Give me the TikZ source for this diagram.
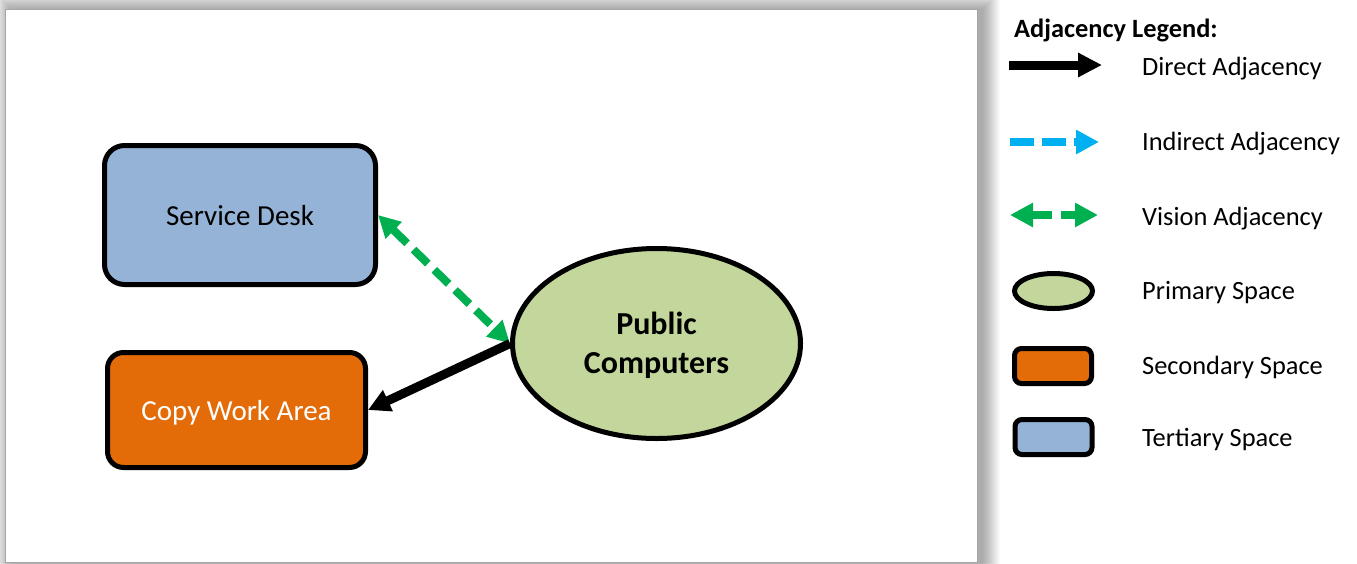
\documentclass[tikz,border=0pt]{standalone}
\usepackage{fontspec}
\setmainfont{Carlito}
\usetikzlibrary{arrows.meta,shapes.geometric}

\definecolor{tertfill}{RGB}{149,179,215}
\definecolor{secfill}{RGB}{227,108,9}
\definecolor{primfill}{RGB}{195,214,155}
\definecolor{visgreen}{RGB}{0,176,80}
\definecolor{indblue}{RGB}{0,176,240}

\tikzset{
  nodefont/.style={font=\fontsize{29}{35}\selectfont, text height=20pt, text depth=0pt},
  legfont/.style={font=\fontsize{26.4}{32}\selectfont},
  tertiary/.style={draw=black, line width=5pt, fill=tertfill, rounded corners=20pt, inner sep=0pt},
  secondary/.style={draw=black, line width=5pt, fill=secfill, rounded corners=16pt, inner sep=0pt},
  primary/.style={draw=black, line width=5pt, fill=primfill, ellipse, inner sep=0pt},
  legtert/.style={tertiary, rounded corners=7pt, minimum width=77pt, minimum height=35pt},
  legsec/.style={secondary, rounded corners=7pt, minimum width=77pt, minimum height=35pt},
  legprim/.style={primary, minimum width=78pt, minimum height=35pt},
  directarrow/.style={draw=black, line width=9pt, -{Triangle[length=22pt,width=22pt]}},
  visionarrow/.style={draw=visgreen, line width=8pt, dash pattern=on 20pt off 9pt,
    {Triangle[length=22pt,width=22pt]}-{Triangle[length=22pt,width=22pt]}},
  legdirect/.style={draw=black, line width=9pt, -{Triangle[length=24pt,width=23pt]}},
  legindirect/.style={draw=indblue, line width=8pt, dash pattern=on 24pt off 8pt,
    -{Triangle[length=23pt,width=23pt]}},
  legvision/.style={draw=visgreen, line width=8pt, dash pattern=on 20pt off 9pt,
    {Triangle[length=23pt,width=23pt]}-{Triangle[length=23pt,width=23pt]}},
  legtext/.style={legfont, anchor=base west, inner sep=0pt},
}

\begin{document}
\begin{tikzpicture}[x=1pt, y=-1pt]
\useasboundingbox (0,0) rectangle (1357,563);
\fill[white] (0,0) rectangle (1357,563);

% soft drop shadow behind the drawing area
\foreach \r in {0,...,17}
  \fill[black, opacity=0.018] (11-\r, 9-\r) rectangle (983+\r, 580+\r);
% drawing area
\filldraw[fill=white, draw=black!35, line width=0.8pt] (5,9) rectangle (977,562);

% spaces
\node[tertiary, nodefont, minimum width=271pt, minimum height=139pt] (sd) at (240,215) {Service Desk};
\node[secondary, nodefont, text=white, minimum width=258pt, minimum height=115pt] (cwa) at (236.5,410) {Copy Work Area};
\node[primary, minimum width=288pt, minimum height=190pt, align=center,
      text height=59pt, text depth=0pt,
      font=\fontsize{32}{39}\selectfont\bfseries] (pc) at (656.5,343.5) {Public\\Computers};

% adjacencies
\draw[visionarrow] (sd.east) -- (pc.west);
\draw[directarrow] (pc.west) -- (cwa.east);

% legend
\node[legtext, font=\fontsize{26.4}{32}\selectfont\bfseries] (legtitle) at (1014,37) {Adjacency Legend:};

\coordinate (d1) at (1009,65);   \coordinate (d2) at (1102,65);
\coordinate (i1) at (1010,142);  \coordinate (i2) at (1099,142);
\coordinate (v1) at (1010,215);  \coordinate (v2) at (1098,215);
\draw[legdirect] (d1) -- (d2);
\draw[legindirect] (i1) -- (i2);
\draw[legvision] (v1) -- (v2);

\node[legprim] (lp) at (1053.5,291) {};
\node[legsec] (ls) at (1053,366) {};
\node[legtert] (lt) at (1053.5,437) {};

\node[legtext] (tdirect) at (1142,75.5) {Direct Adjacency};
\node[legtext] (tindirect) at (1142,150.5) {Indirect Adjacency};
\node[legtext] (tvision) at (1142,225.5) {Vision Adjacency};
\node[legtext] (tprim) at (1142,299.5) {Primary Space};
\node[legtext] (tsec) at (1142,374.5) {Secondary Space};
\node[legtext] (ttert) at (1142,446.5) {Tertiary Space};
\end{tikzpicture}
\end{document}
